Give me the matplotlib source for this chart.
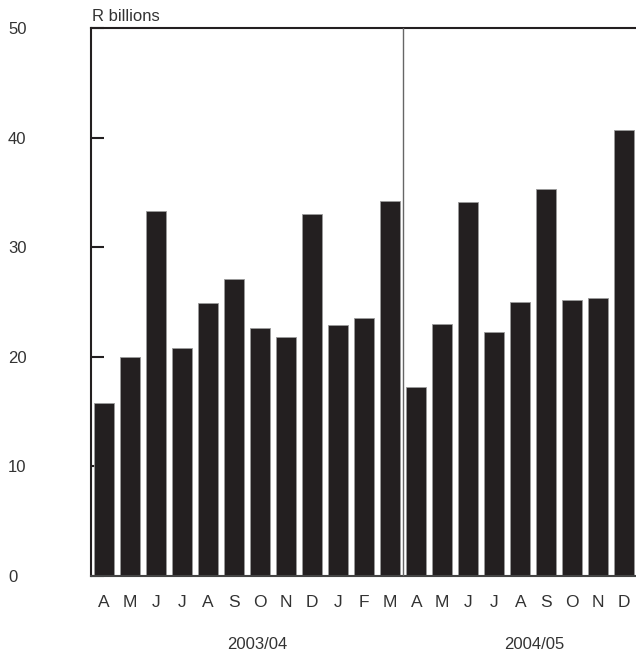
import matplotlib.pyplot as plt
import numpy as np

plt.rcParams['font.family'] = ['Liberation Sans', 'DejaVu Sans']

months = ['A', 'M', 'J', 'J', 'A', 'S', 'O', 'N', 'D', 'J', 'F', 'M',
          'A', 'M', 'J', 'J', 'A', 'S', 'O', 'N', 'D']
values = [15.8, 20.0, 33.3, 20.8, 24.9, 27.1, 22.6, 21.8, 33.0, 22.9, 23.5, 34.2,
          17.2, 23.0, 34.1, 22.3, 25.0, 35.3, 25.2, 25.4, 40.7]
years = ['2003/04', '2004/05']
year_pos = [5.87, 16.55]
y_ticks = [0, 10, 20, 30, 40, 50]

dark = '#231f20'
txt = '#333333'

fig = plt.figure(figsize=(6.36, 6.54), dpi=100)
ax = fig.add_axes([91/636, 78.3/654, 545/636, 547.5/654])

x = np.arange(len(values))
ax.bar(x, values, width=0.77, color=dark, edgecolor='#9a9a9a', linewidth=0.6, zorder=2)

# separator between fiscal years
ax.axvline(11.5, color='#666666', linewidth=1.0, zorder=3)

ax.set_xlim(-0.51, 20.45)
ax.set_ylim(0, 50)

ax.spines['right'].set_visible(False)
for s in ['left', 'top', 'bottom']:
    ax.spines[s].set_linewidth(1.5)
    ax.spines[s].set_color(dark)
ax.spines['bottom'].set_color('#444444')

ax.set_yticks(y_ticks)
ax.set_yticklabels([str(v) for v in y_ticks], ha='left', color=txt, fontsize=12)
ax.tick_params(axis='y', direction='in', length=9.4, width=1.5, color=dark, pad=59.8)

ax.set_xticks(x)
ax.set_xticklabels(months, color=txt, fontsize=12.5)
ax.tick_params(axis='x', length=0, pad=14)

ax.text(0.002, 1.013, 'R billions', transform=ax.transAxes, ha='left', va='baseline',
        fontsize=12, color=txt)

trans = ax.get_xaxis_transform()
for yr, p in zip(years, year_pos):
    ax.text(p, -0.125, yr, transform=trans, ha='center', va='center', fontsize=12, color=txt)

fig.savefig('out.png', dpi=100)
